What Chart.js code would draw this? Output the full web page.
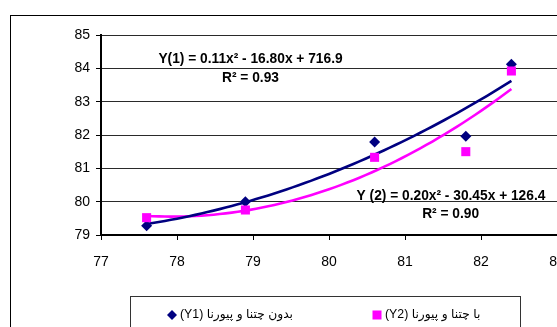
<!DOCTYPE html>
<html>
<head>
<meta charset="utf-8">
<script src="https://cdn.jsdelivr.net/npm/chart.js@4"></script>
<style>
  html, body { margin: 0; padding: 0; background: #fff; overflow: hidden; }
  #wrap { width: 557px; height: 327px; position: relative; overflow: hidden; }
</style>
</head>
<body>
<div id="wrap"><canvas id="c" width="557" height="327"></canvas></div>
<script>
// Measured values
const xValues  = [77.6, 78.9, 80.6, 81.8, 82.4];
const y1Values = [79.28, 80.0, 81.79, 81.96, 84.12];
const y2Values = [79.52, 79.75, 81.33, 81.5, 83.92];

const seriesLabels = ['بدون چتنا و پیورنا (Y1)', 'با چتنا و پیورنا (Y2)'];
const equationLabels = [
  ['Y(1) = 0.11x² - 16.80x + 716.9', 'R² = 0.93'],
  ['Y (2) = 0.20x² - 30.45x + 126.4', 'R² = 0.90']
];
const xTicks = [77, 78, 79, 80, 81, 82, 83];
const yTicks = [79, 80, 81, 82, 83, 84, 85];

const NAVY = '#000080';
const MAGENTA = '#FF00FF';

// Least-squares quadratic fit (polynomial trendline)
function quadFit(xs, ys) {
  let n = xs.length, sx = 0, sx2 = 0, sx3 = 0, sx4 = 0, sy = 0, sxy = 0, sx2y = 0;
  for (let i = 0; i < n; i++) {
    const x = xs[i], y = ys[i], x2 = x * x;
    sx += x; sx2 += x2; sx3 += x2 * x; sx4 += x2 * x2;
    sy += y; sxy += x * y; sx2y += x2 * y;
  }
  const M = [[n, sx, sx2, sy], [sx, sx2, sx3, sxy], [sx2, sx3, sx4, sx2y]];
  for (let i = 0; i < 3; i++) {
    let p = i;
    for (let r = i + 1; r < 3; r++) if (Math.abs(M[r][i]) > Math.abs(M[p][i])) p = r;
    [M[i], M[p]] = [M[p], M[i]];
    for (let r = 0; r < 3; r++) {
      if (r === i) continue;
      const f = M[r][i] / M[i][i];
      for (let k = i; k < 4; k++) M[r][k] -= f * M[i][k];
    }
  }
  const c = M[0][3] / M[0][0], b = M[1][3] / M[1][1], a = M[2][3] / M[2][2];
  return x => c + b * x + a * x * x;
}

function trendPoints(xs, ys, steps) {
  const f = quadFit(xs, ys);
  const lo = Math.min(...xs), hi = Math.max(...xs);
  const pts = [];
  for (let i = 0; i <= steps; i++) {
    const x = lo + (hi - lo) * i / steps;
    pts.push({ x, y: f(x) });
  }
  return pts;
}

const toPoints = (xs, ys) => xs.map((x, i) => ({ x, y: ys[i] }));

// Frame around the chart, equation labels and the boxed legend
const decorations = {
  id: 'decorations',
  afterDraw(chart) {
    const ctx = chart.ctx;
    const xs = chart.scales.x, ys = chart.scales.y;
    ctx.save();
    ctx.strokeStyle = '#000';
    ctx.lineWidth = 1;
    ctx.strokeRect(10.5, 15.5, 600, 400);

    // equation / R² annotations (centre x, baseline y in data units)
    ctx.fillStyle = '#000';
    ctx.font = 'bold 13.75px "Liberation Sans", Arial, sans-serif';
    ctx.textAlign = 'center';
    ctx.textBaseline = 'alphabetic';
    const spots = [
      [[78.967, 84.16], [78.967, 83.59]],
      [[81.605, 80.05], [81.60, 79.52]]
    ];
    equationLabels.forEach((lines, i) => {
      lines.forEach((t, j) => {
        ctx.fillText(t, xs.getPixelForValue(spots[i][j][0]), ys.getPixelForValue(spots[i][j][1]));
      });
    });

    // legend
    ctx.strokeStyle = '#333';
    ctx.strokeRect(130.5, 296.5, 390, 80);
    ctx.font = '12.3px "Liberation Sans", "DejaVu Sans", sans-serif';
    ctx.textAlign = 'left';
    ctx.textBaseline = 'middle';
    ctx.direction = 'rtl';
    const items = [{ x: 172, label: seriesLabels[0] }, { x: 377, label: seriesLabels[1] }];
    const cy = 315;
    // marker 1: diamond
    ctx.fillStyle = NAVY;
    ctx.beginPath();
    ctx.moveTo(items[0].x, cy - 5); ctx.lineTo(items[0].x + 5, cy);
    ctx.lineTo(items[0].x, cy + 5); ctx.lineTo(items[0].x - 5, cy);
    ctx.closePath(); ctx.fill();
    // marker 2: square
    ctx.fillStyle = MAGENTA;
    ctx.fillRect(items[1].x - 4.5, cy - 4.5, 9, 9);
    ctx.fillStyle = '#000';
    items.forEach(it => ctx.fillText(it.label, it.x + 8, cy));
    ctx.restore();
  }
};

new Chart(document.getElementById('c'), {
  type: 'scatter',
  data: {
    datasets: [
      {
        label: seriesLabels[0] + ' trend',
        type: 'line',
        data: trendPoints(xValues, y1Values, 60),
        borderColor: NAVY, borderWidth: 2.6, pointRadius: 0, fill: false, tension: 0, order: 3
      },
      {
        label: seriesLabels[1] + ' trend',
        type: 'line',
        data: trendPoints(xValues, y2Values, 60),
        borderColor: MAGENTA, borderWidth: 2.6, pointRadius: 0, fill: false, tension: 0, order: 4
      },
      {
        label: seriesLabels[0],
        data: toPoints(xValues, y1Values),
        pointStyle: 'rectRot', pointRadius: 5.5,
        backgroundColor: NAVY, borderColor: NAVY, borderWidth: 0, order: 2
      },
      {
        label: seriesLabels[1],
        data: toPoints(xValues, y2Values),
        pointStyle: 'rect', pointRadius: 6.4,
        backgroundColor: MAGENTA, borderColor: MAGENTA, borderWidth: 0, order: 1
      }
    ]
  },
  options: {
    responsive: false,
    animation: false,
    devicePixelRatio: 1,
    layout: { autoPadding: false, padding: { left: 0, right: 0, top: 35, bottom: 0 } },
    plugins: { legend: { display: false }, tooltip: { enabled: false } },
    scales: {
      x: {
        type: 'linear', min: 77, max: 83,
        afterBuildTicks: s => { s.ticks = xTicks.map(v => ({ value: v })); },
        ticks: { color: '#000', font: { family: '"Liberation Sans", Arial, sans-serif', size: 14 }, padding: 14, maxRotation: 0, autoSkip: false },
        grid: { drawOnChartArea: false, drawTicks: true, tickLength: 5, color: '#000', tickWidth: 1 },
        border: { color: '#000', width: 2 },
        afterFit: s => { s.height = 92; s.paddingLeft = 0; s.paddingRight = 0; }
      },
      y: {
        type: 'linear', min: 79, max: 85,
        afterBuildTicks: s => { s.ticks = yTicks.map(v => ({ value: v })); },
        ticks: { color: '#000', font: { family: '"Liberation Sans", Arial, sans-serif', size: 14 }, padding: 6 },
        grid: { color: '#2a2a2a', lineWidth: 1, tickLength: 5, tickColor: '#000' },
        border: { color: '#000', width: 2 },
        afterFit: s => { s.width = 101; s.paddingTop = 0; s.paddingBottom = 0; }
      }
    }
  },
  plugins: [decorations]
});
</script>
</body>
</html>
